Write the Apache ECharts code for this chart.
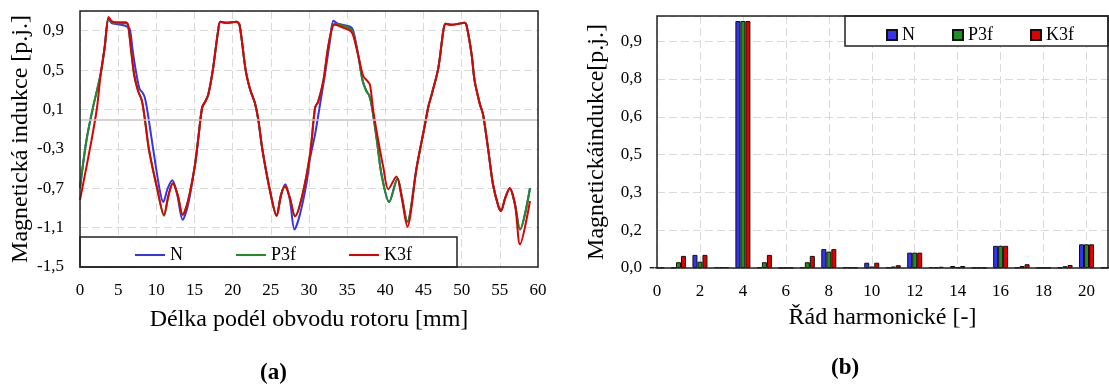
<!DOCTYPE html>
<html>
<head>
<meta charset="utf-8">
<script src="https://cdn.jsdelivr.net/npm/echarts@6/dist/echarts.min.js"></script>
<style>
  html, body { margin: 0; padding: 0; background: #fff; }
  #wrap { position: relative; width: 1109px; height: 388px; }
  #chartA { position: absolute; left: 0; top: 0; width: 560px; height: 388px; }
  #chartB { position: absolute; left: 560px; top: 0; width: 549px; height: 388px; }
</style>
</head>
<body>
<div id="wrap">
  <div id="chartA"></div>
  <div id="chartB"></div>
</div>
<script>
// (a) průběh indukce podél obvodu rotoru - [mm, p.j.]
const nData = [
  [0,-0.70],[0.83,-0.22],[1.7,0.12],[2.71,0.46],[3.23,0.73],[3.75,1.025],[4.1,0.98],[5.0,0.964],[5.9,0.95],
  [6.5,0.92],[6.9,0.70],[7.3,0.50],[7.8,0.31],[8.2,0.27],[8.5,0.22],[8.9,0.05],[9.6,-0.31],[10.4,-0.70],
  [10.9,-0.84],[11.5,-0.70],[12.1,-0.62],[12.7,-0.75],[13.45,-1.02],[14.15,-0.87],[15.07,-0.46],
  [15.5,-0.19],[16.0,0.12],[16.4,0.18],[16.8,0.25],[17.4,0.50],[18.1,0.90],[18.4,0.99],[19.2,0.98],
  [19.9,0.985],[20.5,0.99],[20.9,0.96],[21.7,0.50],[22.3,0.30],[22.9,0.17],[23.35,0.0],[23.9,-0.31],
  [24.85,-0.71],[25.76,-0.98],[26.33,-0.77],[26.9,-0.66],[27.5,-0.82],[28.1,-1.12],[28.8,-0.97],
  [29.7,-0.64],[30.13,-0.40],[30.8,-0.15],[31.44,0.15],[32.1,0.46],[32.75,0.80],[33.2,1.0],[33.8,0.97],
  [35.4,0.94],[35.8,0.90],[36.5,0.63],[37.0,0.40],[37.5,0.29],[37.9,0.24],[38.3,0.10],[38.9,-0.22],
  [39.5,-0.56],[40.5,-0.84],[41.6,-0.60],[42.1,-0.76],[42.88,-1.04],[44.1,-0.49],[45.2,-0.05],
  [45.64,0.13],[46.07,0.25],[46.94,0.52],[47.6,0.90],[47.9,0.97],[48.7,0.96],[49.6,0.97],[50.35,0.98],
  [50.65,0.95],[51.3,0.66],[51.7,0.39],[52.4,0.15],[52.8,0.05],[53.5,-0.32],[54.1,-0.66],[54.8,-0.88],
  [55.15,-0.93],[55.7,-0.80],[56.3,-0.70],[57.0,-0.87],[57.64,-1.12],[58.95,-0.70]
];
const p3fData = [
  [0,-0.70],[0.83,-0.22],[1.7,0.12],[2.71,0.46],[3.23,0.73],[3.75,1.03],[4.1,0.99],[4.6,0.975],[6.0,0.975],
  [6.29,0.955],[6.7,0.70],[7.1,0.45],[7.6,0.29],[8.1,0.19],[8.5,0.0],[9.04,-0.31],[10.13,-0.71],
  [11.0,-0.98],[11.6,-0.77],[12.15,-0.65],[12.8,-0.77],[13.45,-0.97],[14.15,-0.83],[15.07,-0.46],
  [15.5,-0.19],[16.0,0.12],[16.4,0.18],[16.8,0.25],[17.4,0.50],[18.1,0.90],[18.4,0.99],[19.2,0.98],
  [19.9,0.985],[20.5,0.99],[20.9,0.96],[21.7,0.50],[22.3,0.30],[22.9,0.17],[23.35,0.0],[23.9,-0.31],
  [24.85,-0.71],[25.76,-0.98],[26.33,-0.77],[26.86,-0.68],[27.5,-0.80],[28.17,-0.985],[29.04,-0.80],
  [30.13,-0.36],[30.8,0.12],[31.2,0.18],[31.88,0.39],[32.5,0.73],[33.1,0.95],[33.4,0.97],[34.5,0.95],
  [35.4,0.92],[35.8,0.88],[36.5,0.63],[37.0,0.40],[37.5,0.29],[37.9,0.24],[38.3,0.10],[38.9,-0.22],
  [39.5,-0.56],[40.5,-0.84],[41.6,-0.60],[42.1,-0.76],[42.88,-1.04],[44.1,-0.49],[45.2,-0.05],
  [45.64,0.13],[46.07,0.25],[46.94,0.52],[47.6,0.90],[47.9,0.97],[48.7,0.96],[49.6,0.97],[50.35,0.98],
  [50.65,0.95],[51.3,0.66],[51.7,0.39],[52.4,0.15],[52.8,0.05],[53.5,-0.32],[54.1,-0.66],[54.8,-0.88],
  [55.15,-0.93],[55.7,-0.80],[56.3,-0.70],[57.0,-0.87],[57.64,-1.12],[58.95,-0.70]
];
const k3fData = [
  [0,-0.82],[1.49,-0.22],[2.23,0.12],[2.71,0.46],[3.23,0.73],[3.75,1.04],[4.1,1.0],[4.6,0.985],[6.0,0.985],
  [6.29,0.96],[6.7,0.70],[7.1,0.45],[7.6,0.29],[8.1,0.19],[8.5,0.0],[9.04,-0.31],[10.13,-0.71],
  [11.0,-0.97],[11.6,-0.77],[12.15,-0.65],[12.8,-0.77],[13.45,-0.97],[14.15,-0.83],[15.07,-0.46],
  [15.5,-0.19],[16.0,0.12],[16.4,0.18],[16.8,0.25],[17.4,0.50],[18.1,0.90],[18.4,0.99],[19.2,0.98],
  [19.9,0.985],[20.5,0.99],[20.9,0.96],[21.7,0.50],[22.3,0.30],[22.9,0.17],[23.35,0.0],[23.9,-0.31],
  [24.85,-0.71],[25.76,-0.98],[26.33,-0.77],[26.86,-0.68],[27.5,-0.80],[28.17,-0.985],[29.04,-0.80],
  [30.13,-0.36],[30.8,0.12],[31.2,0.18],[31.88,0.39],[32.5,0.73],[33.1,0.95],[33.4,0.96],[34.5,0.93],
  [35.4,0.90],[35.8,0.85],[36.5,0.63],[37.1,0.44],[37.64,0.39],[37.99,0.35],[38.43,0.08],[39.08,-0.22],
  [39.74,-0.49],[40.39,-0.71],[41.45,-0.58],[42.15,-0.80],[42.88,-1.09],[44.1,-0.49],[45.2,-0.05],
  [45.64,0.13],[46.07,0.25],[46.94,0.52],[47.6,0.90],[47.9,0.97],[48.7,0.96],[49.6,0.97],[50.35,0.98],
  [50.65,0.95],[51.3,0.66],[51.7,0.39],[52.4,0.15],[52.8,0.05],[53.5,-0.32],[54.1,-0.66],[54.8,-0.88],
  [55.15,-0.93],[55.7,-0.80],[56.3,-0.70],[57.0,-0.87],[57.64,-1.27],[58.95,-0.83]
];

// (b) spektrum harmonických
const harmonics = ['0','1','2','3','4','5','6','7','8','9','10','11','12','13','14','15','16','17','18','19','20','21'];
const barN   = [0.002,0.002,0.052,0.003,0.98,0.003,0.001,0.003,0.075,0.002,0.021,0.003,0.061,0.003,0.008,0.001,0.088,0.002,0.001,0.002,0.094,0.002];
const barP3f = [0.002,0.023,0.025,0.003,0.98,0.023,0.001,0.023,0.065,0.002,0.006,0.006,0.061,0.003,0.003,0.001,0.088,0.008,0.001,0.007,0.094,0.002];
const barK3f = [0.002,0.048,0.052,0.003,0.98,0.052,0.001,0.048,0.075,0.002,0.021,0.011,0.061,0.005,0.008,0.001,0.088,0.015,0.001,0.012,0.094,0.002];

const FONT = "'Liberation Serif', 'Times New Roman', serif";
const BLUE = '#3434f0', GREEN = '#1f8f1f', RED = '#e00000';
const gridLine = { show: true, lineStyle: { color: '#d9d9d9', type: [8, 4], width: 1 } };
const comma = v => (Math.round(v * 10 + 1e-9) / 10).toFixed(1).replace('.', ',');
const tickFont = { fontFamily: FONT, fontSize: 17, color: '#000' };
const titleFont = { fontFamily: FONT, fontSize: 24, color: '#000' };

// ---------- (a) ----------
const chartA = echarts.init(document.getElementById('chartA'));
const lineSeries = (name, data, color) => ({
  name, type: 'line', data, smooth: 0.3, showSymbol: false,
  lineStyle: { color, width: 2 }, itemStyle: { color }
});
const sN = lineSeries('N', nData, BLUE);
sN.markLine = {
  silent: true, symbol: 'none', animation: false, label: { show: false },
  lineStyle: { color: '#c4c4c4', type: 'solid', width: 1.5 },
  data: [{ yAxis: 0 }]
};
chartA.setOption({
  animation: false,
  textStyle: { fontFamily: FONT },
  grid: { left: 80, top: 11, width: 458, height: 256, containLabel: false, outerBoundsMode: 'none' },
  legend: {
    left: 130, top: 241, z: 10, itemGap: 53, itemWidth: 30, itemHeight: 2, icon: 'rect',
    textStyle: { fontFamily: FONT, fontSize: 18, color: '#000' },
    data: ['N', 'P3f', 'K3f']
  },
  graphic: [
    { type: 'rect', z: 5, shape: { x: 80, y: 237, width: 377, height: 30 },
      style: { fill: '#fff', stroke: '#222', lineWidth: 1.5 } },
    { type: 'rect', z: 20, silent: true, shape: { x: 80, y: 11, width: 458, height: 256 },
      style: { fill: 'none', stroke: '#222', lineWidth: 1.5 } },
    { type: 'text', left: 260, top: 362,
      style: { text: '(a)', font: 'bold 23px ' + FONT, fill: '#000' } }
  ],
  xAxis: {
    type: 'value', min: 0, max: 60, interval: 5,
    name: 'Délka podél obvodu rotoru [mm]', nameLocation: 'middle', nameGap: 41,
    nameMoveOverlap: false,
    nameTextStyle: titleFont,
    axisLine: { show: false },
    axisTick: { show: false },
    axisLabel: Object.assign({ margin: 15 }, tickFont),
    splitLine: gridLine
  },
  yAxis: {
    type: 'value', min: -1.5, max: 1.1, interval: 0.4,
    name: 'Magnetická indukce [p.j.]', nameLocation: 'middle', nameGap: 47,
    nameMoveOverlap: false,
    nameTextStyle: titleFont,
    axisLine: { show: false },
    axisTick: { show: false },
    axisLabel: Object.assign({ margin: 16, formatter: v => (v > 1.0 ? '' : comma(v)) }, tickFont),
    splitLine: gridLine
  },
  series: [sN, lineSeries('P3f', p3fData, GREEN), lineSeries('K3f', k3fData, RED)]
});

// ---------- (b) ----------
const chartB = echarts.init(document.getElementById('chartB'));
const barSeries = (name, data, color) => ({
  name, type: 'bar', data, barWidth: 5, barGap: '0%',
  itemStyle: { color, borderColor: '#111', borderWidth: 1 }
});
chartB.setOption({
  animation: false,
  textStyle: { fontFamily: FONT },
  grid: { left: 97, top: 16, width: 451, height: 252, containLabel: false, outerBoundsMode: 'none' },
  legend: {
    left: 321, top: 21, z: 10, itemGap: 37, itemWidth: 10, itemHeight: 10, icon: 'rect',
    textStyle: { fontFamily: FONT, fontSize: 18, color: '#000' },
    data: ['N', 'P3f', 'K3f']
  },
  graphic: [
    { type: 'rect', z: 5, shape: { x: 285, y: 16, width: 263, height: 30 },
      style: { fill: '#fff', stroke: '#222', lineWidth: 1.5 } },
    { type: 'rect', z: 20, silent: true, shape: { x: 97, y: 16, width: 451, height: 252 },
      style: { fill: 'none', stroke: '#222', lineWidth: 1.5 } },
    { type: 'text', left: 271, top: 357,
      style: { text: '(b)', font: 'bold 23px ' + FONT, fill: '#000' } }
  ],
  xAxis: {
    type: 'category', data: harmonics, boundaryGap: false,
    name: 'Řád harmonické [-]', nameLocation: 'middle', nameGap: 38,
    nameMoveOverlap: false,
    nameTextStyle: titleFont,
    axisLine: { show: false },
    axisTick: { show: false },
    axisLabel: Object.assign({ margin: 15, interval: 1 }, tickFont),
    splitLine: { show: true, interval: 1, lineStyle: { color: '#d9d9d9', type: [8, 4], width: 1 } }
  },
  yAxis: {
    type: 'value', min: 0, max: 1.0, interval: 0.15,
    name: 'Magnetickáindukce[p.j.]', nameLocation: 'middle', nameGap: 48,
    nameMoveOverlap: false,
    nameTextStyle: titleFont,
    axisLine: { show: false },
    axisTick: { show: false },
    axisLabel: Object.assign({ margin: 15, formatter: v => (v > 0.95 ? '' : comma(v)) }, tickFont),
    splitLine: gridLine
  },
  series: [barSeries('N', barN, BLUE), barSeries('P3f', barP3f, GREEN), barSeries('K3f', barK3f, RED)]
});
</script>
</body>
</html>
